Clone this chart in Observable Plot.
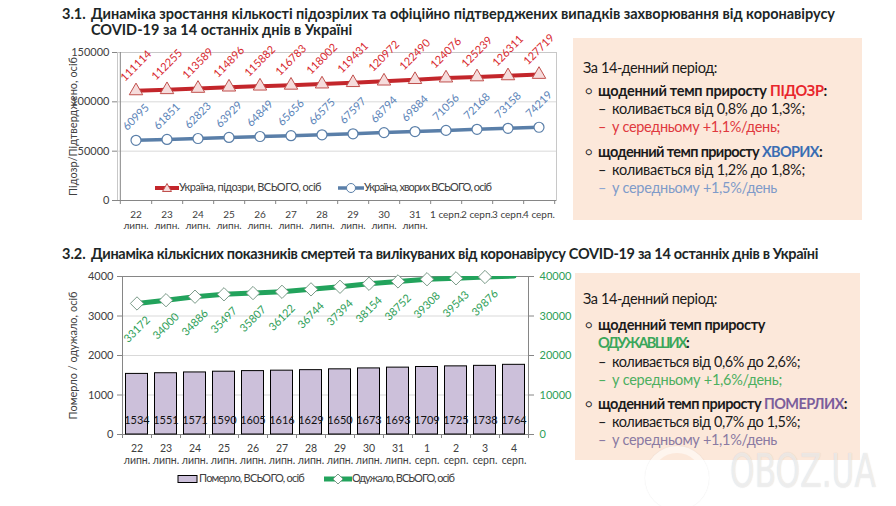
<!DOCTYPE html>
<html lang="uk">
<head>
<meta charset="utf-8">
<script src="https://cdn.jsdelivr.net/npm/d3@7"></script>
<script src="https://cdn.jsdelivr.net/npm/@observablehq/plot@0.6"></script>
<style>
html,body{margin:0;padding:0;background:#fff;}
body{width:896px;height:506px;position:relative;overflow:hidden;font-family:Lato,"Open Sans",sans-serif;color:#1a1a1a;}
.a{position:absolute;white-space:nowrap;}
.h{font-weight:bold;font-size:14.5px;line-height:16px;color:#1c2626;}
.box{position:absolute;background:#fce8da;}
.t{position:absolute;white-space:nowrap;font-size:14.5px;line-height:18px;color:#1a1a1a;}
.b{font-weight:bold;}
.leg{position:absolute;white-space:nowrap;font-size:11px;line-height:14px;color:#404040;}
.chart{position:absolute;}
</style>
</head>
<body>
<div class="a h" style="left:62px;top:6px">3.1.</div>
<div class="a h fitj" data-w="744" style="left:91px;top:6px">Динаміка зростання кількості підозрілих та офіційно підтверджених випадків захворювання від коронавірусу</div>
<div class="a h" style="left:91px;top:22px">COVID-19 за 14 останніх днів в Україні</div>
<div class="a h" style="left:62px;top:246px">3.2.</div>
<div class="a h" data-w="727" style="left:91px;top:246px">Динаміка кількісних показників смертей та вилікуваних від коронавірусу COVID-19 за 14 останніх днів в Україні</div>

<div id="c1" class="chart" style="left:0px;top:40px"></div>
<div id="c2" class="chart" style="left:0px;top:262px"></div>

<div class="box" style="left:573px;top:38px;width:289px;height:182px"></div>
<div class="t" data-w="134" style="left:583px;top:59px">За 14-денний період:</div>
<div class="t" style="left:585px;top:82px;font-size:11px">○</div>
<div class="t b" data-w="229" style="left:598px;top:82px">щоденний темп приросту <span style="color:#e8262c">ПІДОЗР</span>:</div>
<div class="t" style="left:598px;top:100px">–</div>
<div class="t" data-w="193" style="left:612px;top:100px">коливається від 0,8% до 1,3%;</div>
<div class="t" style="left:598px;top:118px;color:#e0393e">–</div>
<div class="t" data-w="168" style="left:612px;top:118px;color:#e0393e">у середньому +1,1%/день;</div>
<div class="t" style="left:585px;top:143px;font-size:11px">○</div>
<div class="t b" data-w="224" style="left:598px;top:143px">щоденний темп приросту <span style="color:#3a6db3">ХВОРИХ</span>:</div>
<div class="t" style="left:598px;top:161px">–</div>
<div class="t" data-w="193" style="left:612px;top:161px">коливається від 1,2% до 1,8%;</div>
<div class="t" style="left:598px;top:179px;color:#8ea8d2">–</div>
<div class="t" data-w="165" style="left:612px;top:179px;color:#7f9bc9">у середньому +1,5%/день</div>

<div class="box" style="left:575px;top:273px;width:285px;height:187px"></div>
<div class="t" data-w="134" style="left:583px;top:290px">За 14-денний період:</div>
<div class="t" style="left:585px;top:316px;font-size:11px">○</div>
<div class="t b" data-w="167" style="left:598px;top:316px">щоденний темп приросту</div>
<div class="t b" data-w="90" style="left:598px;top:334px"><span style="color:#3aa65a">ОДУЖАВШИХ</span>:</div>
<div class="t" style="left:598px;top:353px">–</div>
<div class="t" data-w="188" style="left:612px;top:353px">коливається від 0,6% до 2,6%;</div>
<div class="t" style="left:598px;top:371px;color:#4caf5f">–</div>
<div class="t" data-w="170" style="left:612px;top:371px;color:#4caf5f">у середньому +1,6%/день;</div>
<div class="t" style="left:585px;top:395px;font-size:11px">○</div>
<div class="t b" data-w="249" style="left:598px;top:395px">щоденний темп приросту <span style="color:#7b5e9c">ПОМЕРЛИХ</span>:</div>
<div class="t" style="left:598px;top:413px">–</div>
<div class="t" data-w="188" style="left:612px;top:413px">коливається від 0,7% до 1,5%;</div>
<div class="t" style="left:598px;top:433px;line-height:14px;color:#8a7aa2">–</div>
<div class="t" data-w="165" style="left:612px;top:433px;line-height:14px;color:#8a7aa2">у середньому +1,1%/день</div>

<div id="leg1a" class="leg" style="left:155px;top:180px"></div>
<div id="leg1b" class="leg" style="left:338px;top:180px"></div>
<div id="leg2a" class="leg" style="left:177px;top:471px"></div>
<div id="leg2b" class="leg" style="left:324px;top:471px"></div>

<div class="a" style="left:645px;top:446px;width:50px;height:50px;border-radius:50%;border:7px solid rgba(255,255,255,0.55);box-shadow:0 0 1px rgba(120,120,120,0.25)"></div>
<div id="wm" class="a" style="left:730px;top:456px;font-size:46px;line-height:30px;font-family:'DejaVu Sans Condensed','Liberation Sans Narrow',sans-serif;color:rgba(255,255,255,0.6);text-shadow:0 0 1px rgba(110,110,110,0.3);transform-origin:0 0">OBOZ.UA</div>

<script>
// ---- data ----
const days = ["22","23","24","25","26","27","28","29","30","31","1","2","3","4"];
const months = ["липн.","липн.","липн.","липн.","липн.","липн.","липн.","липн.","липн.","липн.","серп.","серп.","серп.","серп."];
const suspected = [111114,112255,113589,114896,115882,116783,118002,119431,120972,122490,124076,125239,126311,127719];
const confirmed = [60995,61851,62823,63929,64849,65656,66575,67597,68794,69884,71056,72168,73158,74219];
const deaths = [1534,1551,1571,1590,1605,1616,1629,1650,1673,1693,1709,1725,1738,1764];
const recovered = [33172,34000,34886,35497,35807,36122,36744,37394,38154,38752,39308,39543,39876,40100];
const topTicks = [0,50000,100000,150000];
const leftTicks = [0,1000,2000,3000,4000];
const rightTicks = [0,10000,20000,30000,40000];
const yTitleTop = "Підозр/Підтверджено, осіб";
const yTitleBottom = "Померло / одужало, осіб";
const legendTop = ["Україна, підозри, ВСЬОГО, осіб","Україна, хворих ВСЬОГО, осіб"];
const legendBottom = ["Померло, ВСЬОГО, осіб","Одужало, ВСЬОГО, осіб"];

const dates = days.map((d,i)=>d+" "+months[i]);
const topLabel = new Map(dates.map((k,i)=>[k, months[i]==="липн." ? days[i]+"\n"+months[i] : days[i]+" "+months[i]]));
const botLabel = new Map(dates.map((k,i)=>[k, days[i]+"\n"+months[i]]));
const rows = dates.map((date,i)=>({date, suspected:suspected[i], confirmed:confirmed[i], deaths:deaths[i], recovered:recovered[i]}));

const RED="#c3262b", RED_T="#d8292f", BLUE="#5a7fa9", BLUE_T="#5b83b8", GREEN="#22a35c", GREEN_T="#2e9e57", BAR="#ccc0da";
const font = {fontFamily:"Lato, sans-serif", fontSize:"11px", color:"#404040", background:"transparent", overflow:"visible"};

// ---- top chart ----
const W1=565,H1=196,ML1=117,MR1=9,MT1=12,MB1=36;
const bw1=(W1-ML1-MR1)/dates.length;
const p1 = Plot.plot({
  width:W1,height:H1,marginLeft:ML1,marginRight:MR1,marginTop:MT1,marginBottom:MB1,
  style:font,
  x:{type:"band",domain:dates,padding:0,axis:null},
  y:{domain:[0,150000],axis:null},
  marks:[
    Plot.gridY(topTicks.filter(v=>v>0),{stroke:"#d9d9d9",strokeOpacity:1}),
    Plot.frame({stroke:"#c8c8c8"}),
    Plot.ruleY([0],{stroke:"#868686"}),
    Plot.ruleX([dates[0]],{dx:-bw1/2,stroke:"#868686"}),
    Plot.axisY({ticks:topTicks,tickFormat:d=>String(d),tickSize:5,tickPadding:3,stroke:"#868686",fill:"#404040",
      label:yTitleTop,labelAnchor:"center",labelOffset:48,labelArrow:"none"}),
    Plot.ruleX(dates,{dx:bw1/2,insetTop:H1-MT1-MB1,insetBottom:-4,stroke:"#868686"}),
    Plot.ruleX([dates[0]],{dx:-bw1/2,insetTop:H1-MT1-MB1,insetBottom:-4,stroke:"#868686"}),
    Plot.axisX({tickSize:0,tickPadding:9,tickFormat:d=>topLabel.get(d),lineHeight:1.15,label:null,fill:"#404040",fontSize:10}),
    Plot.line(rows,{x:"date",y:"suspected",stroke:RED,strokeWidth:4}),
    Plot.dot(rows,{x:"date",y:"suspected",symbol:"triangle",r:5,fill:"#f6dcdc",stroke:"#c0504d",strokeWidth:1}),
    Plot.text(rows,{x:"date",y:"suspected",text:d=>String(d.suspected),rotate:-45,dy:-25,fill:RED_T,fontSize:11}),
    Plot.line(rows,{x:"date",y:"confirmed",stroke:BLUE,strokeWidth:3.5}),
    Plot.dot(rows,{x:"date",y:"confirmed",symbol:"circle",r:5,fill:"#fff",stroke:BLUE,strokeWidth:1.2}),
    Plot.text(rows,{x:"date",y:"confirmed",text:d=>String(d.confirmed),rotate:-45,dy:-23,fill:BLUE_T,fontSize:11})
  ]
});
document.getElementById("c1").append(p1);

// ---- bottom chart ----
const ratio = rightTicks[rightTicks.length-1]/leftTicks[leftTicks.length-1];
const W2=580,H2=210,ML2=122,MR2=52,MT2=14,MB2=38;
const bw2=(W2-ML2-MR2)/dates.length;
const recRows = rows.filter(d=>d.recovered<=rightTicks[rightTicks.length-1]);
const p2 = Plot.plot({
  width:W2,height:H2,marginLeft:ML2,marginRight:MR2,marginTop:MT2,marginBottom:MB2,
  style:font,
  x:{type:"band",domain:dates,padding:0,axis:null},
  y:{domain:[0,4000],axis:null},
  marks:[
    Plot.gridY(leftTicks.filter(v=>v>0),{stroke:"#d9d9d9",strokeOpacity:1}),
    Plot.frame({stroke:"#868686"}),
    Plot.axisY({ticks:leftTicks,tickFormat:d=>String(d),tickSize:5,tickPadding:4,stroke:"#868686",fill:"#404040",
      label:yTitleBottom,labelAnchor:"center",labelOffset:53,labelArrow:"none"}),
    Plot.axisY({anchor:"right",ticks:leftTicks,tickFormat:d=>String(d*ratio),tickSize:5,tickPadding:6,stroke:"#868686",fill:GREEN_T,label:null}),
    Plot.ruleX(dates,{dx:bw2/2,insetTop:H2-MT2-MB2,insetBottom:-4,stroke:"#868686"}),
    Plot.ruleX([dates[0]],{dx:-bw2/2,insetTop:H2-MT2-MB2,insetBottom:-4,stroke:"#868686"}),
    Plot.axisX({tickSize:0,tickPadding:9,tickFormat:d=>botLabel.get(d),lineHeight:1.15,label:null,fill:"#404040",fontSize:10.5}),
    Plot.barY(rows,{x:"date",y:"deaths",fill:BAR,stroke:"#000",strokeWidth:1,insetLeft:3.5,insetRight:3.5}),
    Plot.text(rows,{x:"date",text:d=>String(d.deaths),frameAnchor:"bottom",dy:-11,fill:"#111",fontSize:11}),
    Plot.line(rows,{x:"date",y:d=>d.recovered/ratio,stroke:GREEN,strokeWidth:5,clip:true}),
    Plot.dot(recRows,{x:"date",y:d=>d.recovered/ratio,symbol:"diamond2",r:6,fill:"#fff",stroke:"#7a9a88",strokeWidth:1}),
    Plot.text(recRows,{x:"date",y:d=>d.recovered/ratio,text:d=>String(d.recovered),rotate:-45,dy:26,fill:GREEN_T,fontSize:11})
  ]
});
document.getElementById("c2").append(p2);

// ---- legends ----
document.getElementById("leg1a").innerHTML =
  `<svg width="24" height="12" style="vertical-align:middle"><line x1="0" y1="6" x2="24" y2="6" stroke="${RED}" stroke-width="4"/><path d="M12,1.5 L16.5,9.5 L7.5,9.5Z" fill="#f6dcdc" stroke="#c0504d"/></svg><span data-w="142">${legendTop[0]}</span>`;
document.getElementById("leg1b").innerHTML =
  `<svg width="26" height="12" style="vertical-align:middle"><line x1="0" y1="6" x2="26" y2="6" stroke="${BLUE}" stroke-width="3.5"/><circle cx="13" cy="6" r="4.5" fill="#fff" stroke="${BLUE}"/></svg><span data-w="127">${legendTop[1]}</span>`;
document.getElementById("leg2a").innerHTML =
  `<svg width="22" height="12" style="vertical-align:middle"><rect x="1" y="2.5" width="19" height="7" fill="${BAR}" stroke="#000"/></svg><span data-w="105">${legendBottom[0]}</span>`;
document.getElementById("leg2b").innerHTML =
  `<svg width="28" height="12" style="vertical-align:middle"><line x1="0" y1="6" x2="28" y2="6" stroke="${GREEN}" stroke-width="5"/><path d="M14,1 L19,6 L14,11 L9,6Z" fill="#fff" stroke="#7a9a88"/></svg><span data-w="102">${legendBottom[1]}</span>`;

// ---- fit text widths ----
function fit(){
  document.querySelectorAll("[data-w]").forEach(el=>{
    const w=+el.dataset.w;
    el.style.letterSpacing="0px"; el.style.wordSpacing="0px";
    el.style.display = el.tagName==="SPAN" ? "inline-block" : el.style.display;
    const nat=el.getBoundingClientRect().width;
    const txt=el.textContent;
    if(el.classList.contains("fitj") && w>nat){
      const gaps=(txt.match(/ /g)||[]).length;
      el.style.wordSpacing=((w-nat)/gaps)+"px";
    } else {
      el.style.letterSpacing=((w-nat)/txt.length)+"px";
    }
  });
  const wm=document.getElementById("wm");
  wm.style.transform="none";
  const ww=wm.getBoundingClientRect().width;
  wm.style.transform=`scaleX(${146/ww})`;
}
fit();
if(document.fonts && document.fonts.ready) document.fonts.ready.then(fit);
</script>
</body>
</html>
